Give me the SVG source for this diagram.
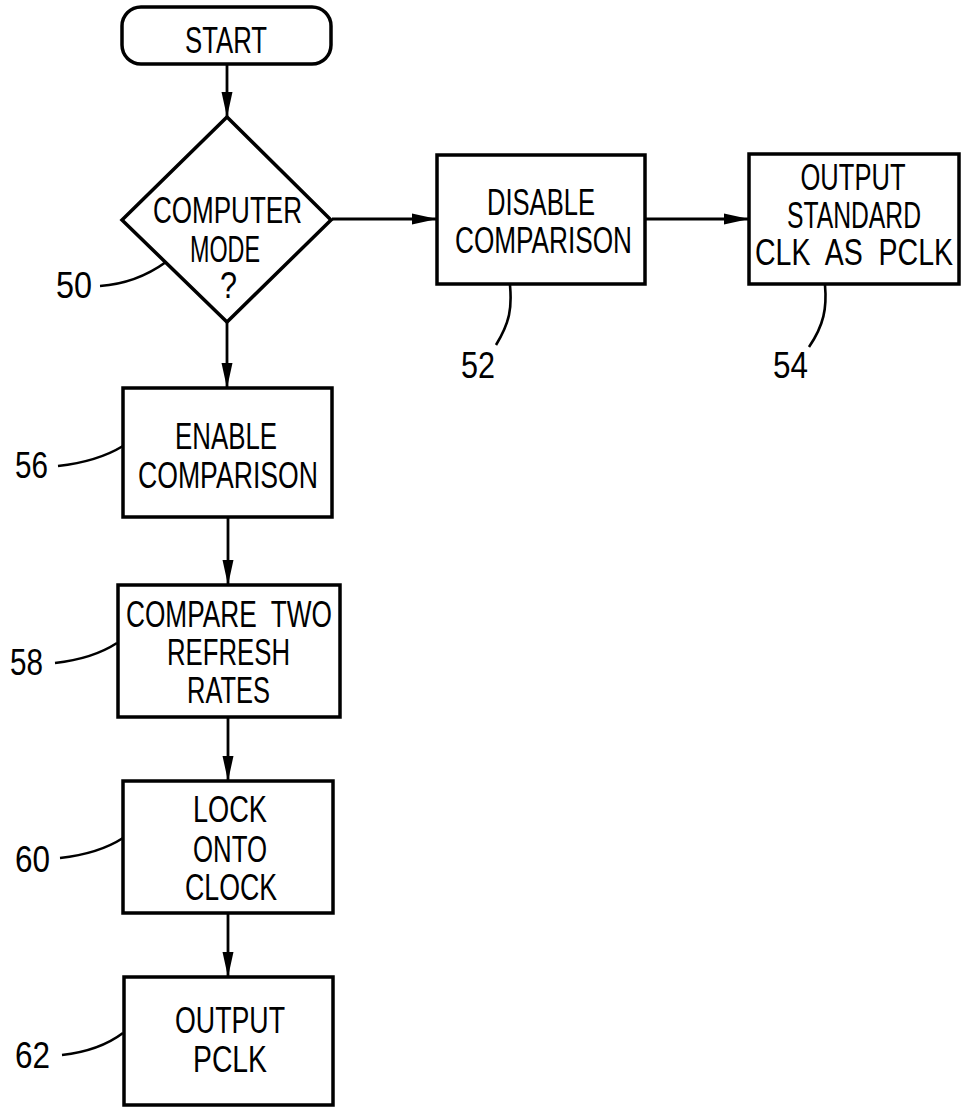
<svg xmlns="http://www.w3.org/2000/svg" width="962" height="1107" viewBox="0 0 962 1107">
<style>
.box{fill:#fff;stroke:#000;stroke-width:3.5}
.t{font-family:"Liberation Sans",Arial,sans-serif;font-size:36px;fill:#000;text-anchor:middle;white-space:pre}
.n{font-family:"Liberation Sans",Arial,sans-serif;font-size:36px;fill:#000;text-anchor:start}
.c{fill:none;stroke:#000;stroke-width:2.8}
.l{fill:none;stroke:#000;stroke-width:2.6}
</style>
<defs>
<marker id="ah" markerUnits="userSpaceOnUse" markerWidth="26" markerHeight="12" refX="25" refY="6" orient="auto" viewBox="0 0 26 12">
<path d="M0,0.5 L25,6 L0,11.5 Z" fill="#000"/>
</marker>
</defs>
<rect width="962" height="1107" fill="#fff"/>
<g id="connectors">
<line class="c" x1="227" y1="65" x2="227" y2="117" marker-end="url(#ah)"/>
<line class="c" x1="332" y1="219" x2="437" y2="219" marker-end="url(#ah)"/>
<line class="c" x1="645" y1="219" x2="749" y2="219" marker-end="url(#ah)"/>
<line class="c" x1="227" y1="322" x2="227" y2="388" marker-end="url(#ah)"/>
<line class="c" x1="228" y1="517" x2="228" y2="585" marker-end="url(#ah)"/>
<line class="c" x1="228" y1="717" x2="228" y2="781" marker-end="url(#ah)"/>
<line class="c" x1="228" y1="913" x2="228" y2="977" marker-end="url(#ah)"/>
</g>
<g id="start">
<rect class="box" x="122" y="7" width="209" height="57" rx="19"/>
<text class="t" x="226" y="53" textLength="82" lengthAdjust="spacingAndGlyphs">START</text>
</g>
<g id="n50">
<polygon class="box" points="227,117 331,220 227,322 122,220"/>
<text class="t" x="227.5" y="223" textLength="149" lengthAdjust="spacingAndGlyphs">COMPUTER</text>
<text class="t" x="225" y="262" textLength="70" lengthAdjust="spacingAndGlyphs">MODE</text>
<text class="t" x="228.5" y="298" textLength="17" lengthAdjust="spacingAndGlyphs">?</text>
<path class="l" d="M100,286 C128,284 148,275 166,262"/>
<text class="n" x="56" y="298" textLength="36" lengthAdjust="spacingAndGlyphs">50</text>
</g>
<g id="n52">
<rect class="box" x="437" y="155" width="208" height="129"/>
<text class="t" x="541" y="215" textLength="108" lengthAdjust="spacingAndGlyphs">DISABLE</text>
<text class="t" x="543.5" y="253" textLength="177" lengthAdjust="spacingAndGlyphs">COMPARISON</text>
<path class="l" d="M510,285 C512,308 510,322 496,345"/>
<text class="n" x="461" y="378" textLength="34" lengthAdjust="spacingAndGlyphs">52</text>
</g>
<g id="n54">
<rect class="box" x="749" y="154" width="210" height="130"/>
<text class="t" x="853" y="190" textLength="105" lengthAdjust="spacingAndGlyphs">OUTPUT</text>
<text class="t" x="854" y="228" textLength="134" lengthAdjust="spacingAndGlyphs">STANDARD</text>
<text class="t" x="854" y="265" textLength="198" lengthAdjust="spacingAndGlyphs" xml:space="preserve">CLK  AS  PCLK</text>
<path class="l" d="M825,285 C827,308 824,325 809,347"/>
<text class="n" x="773" y="378" textLength="35" lengthAdjust="spacingAndGlyphs">54</text>
</g>
<g id="n56">
<rect class="box" x="123" y="388" width="209" height="129"/>
<text class="t" x="226" y="449" textLength="102" lengthAdjust="spacingAndGlyphs">ENABLE</text>
<text class="t" x="228" y="488" textLength="180" lengthAdjust="spacingAndGlyphs">COMPARISON</text>
<path class="l" d="M58,466 C85,463 105,457 123,446"/>
<text class="n" x="15" y="478" textLength="33" lengthAdjust="spacingAndGlyphs">56</text>
</g>
<g id="n58">
<rect class="box" x="118" y="585" width="222" height="132"/>
<text class="t" x="229" y="627" textLength="206" lengthAdjust="spacingAndGlyphs" xml:space="preserve">COMPARE  TWO</text>
<text class="t" x="228.5" y="665" textLength="123" lengthAdjust="spacingAndGlyphs">REFRESH</text>
<text class="t" x="228.5" y="703" textLength="83" lengthAdjust="spacingAndGlyphs">RATES</text>
<path class="l" d="M55,663 C82,660 100,654 117,643"/>
<text class="n" x="10" y="675" textLength="33" lengthAdjust="spacingAndGlyphs">58</text>
</g>
<g id="n60">
<rect class="box" x="123" y="781" width="210" height="132"/>
<text class="t" x="230" y="822" textLength="74" lengthAdjust="spacingAndGlyphs">LOCK</text>
<text class="t" x="230" y="862" textLength="74" lengthAdjust="spacingAndGlyphs">ONTO</text>
<text class="t" x="231" y="900" textLength="92" lengthAdjust="spacingAndGlyphs">CLOCK</text>
<path class="l" d="M60,858 C87,855 106,849 123,838"/>
<text class="n" x="15" y="872" textLength="35" lengthAdjust="spacingAndGlyphs">60</text>
</g>
<g id="n62">
<rect class="box" x="124" y="977" width="209" height="128"/>
<text class="t" x="230" y="1033" textLength="110" lengthAdjust="spacingAndGlyphs">OUTPUT</text>
<text class="t" x="230" y="1072" textLength="74" lengthAdjust="spacingAndGlyphs">PCLK</text>
<path class="l" d="M62,1055 C89,1052 107,1045 123,1033"/>
<text class="n" x="15" y="1068" textLength="35" lengthAdjust="spacingAndGlyphs">62</text>
</g>
</svg>
